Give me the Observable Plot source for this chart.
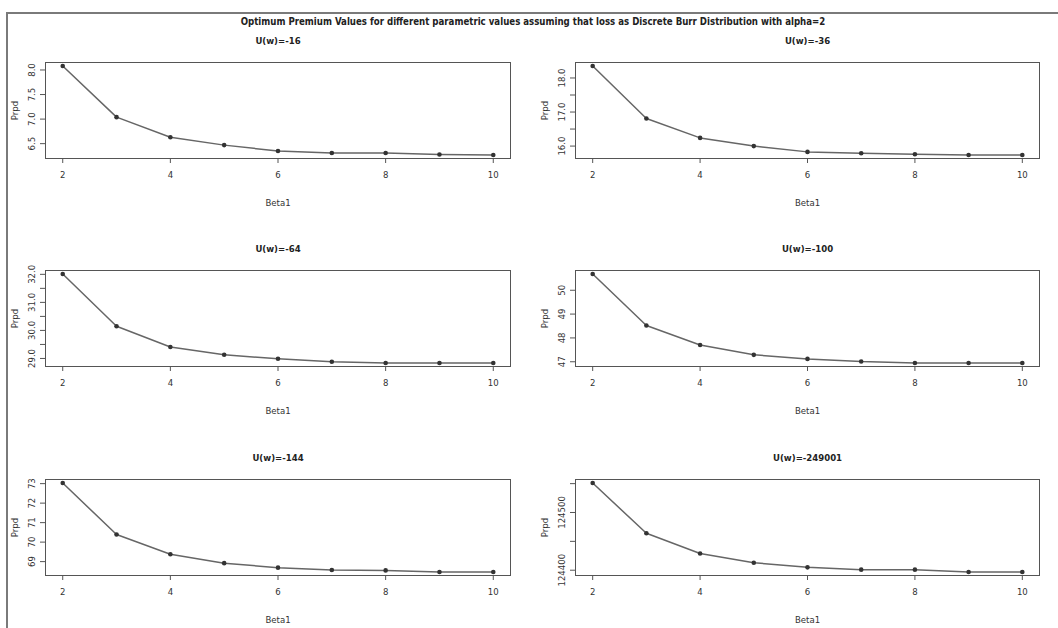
<!DOCTYPE html>
<html>
<head>
<meta charset="utf-8">
<script src="https://cdn.jsdelivr.net/npm/d3@7"></script>
<script src="https://cdn.jsdelivr.net/npm/@observablehq/plot@0.6"></script>
<style>
  body { margin: 0; background: #fff; }
  #page { position: relative; width: 1058px; height: 628px; overflow: hidden;
          font-family: "Liberation Sans Narrow", "DejaVu Sans Condensed", "Liberation Sans", sans-serif; }
  #frame { position: absolute; left: 6px; top: 12px; width: 1060px; height: 630px;
           border-top: 2px solid #7a7a7a; border-left: 2px solid #7a7a7a; }
  #title { position: absolute; top: 16px; left: 4px; width: 1058px; text-align: center;
           font-weight: bold; font-size: 9.6px; color: #222; white-space: nowrap; }
  .panel { position: absolute; }
</style>
</head>
<body>
<div id="page">
  <div id="frame"></div>
  <div id="title">Optimum Premium Values for different parametric values assuming that loss as Discrete Burr Distribution with alpha=2</div>
</div>
<script>
// Shape parameter beta1 on the x axis
const beta1 = [2, 3, 4, 5, 6, 7, 8, 9, 10];
const xTicks = [2, 4, 6, 8, 10];

// Panel headings (utility level)
const utilities = ["U(w)=-16", "U(w)=-36", "U(w)=-64", "U(w)=-100", "U(w)=-144", "U(w)=-249001"];

// Optimum premium for each utility level
const prem16     = [8.08, 7.04, 6.63, 6.47, 6.35, 6.31, 6.31, 6.28, 6.27];
const prem36     = [18.35, 16.81, 16.24, 16.00, 15.83, 15.79, 15.76, 15.74, 15.74];
const prem64     = [32.01, 30.15, 29.41, 29.13, 28.99, 28.88, 28.84, 28.84, 28.84];
const prem100    = [50.68, 48.52, 47.70, 47.29, 47.12, 47.01, 46.95, 46.95, 46.95];
const prem144    = [73.03, 70.39, 69.38, 68.92, 68.69, 68.57, 68.55, 68.47, 68.47];
const prem249001 = [124551, 124464, 124429, 124413, 124405, 124401, 124401, 124397, 124397];

// y tick positions and the subset that carries a label
const yTicks16  = [6.5, 7.0, 7.5, 8.0];              const yLabels16  = [6.5, 7.0, 7.5, 8.0];
const yTicks36  = [16.0, 16.5, 17.0, 17.5, 18.0];    const yLabels36  = [16.0, 17.0, 18.0];
const yTicks64  = [29.0, 29.5, 30.0, 30.5, 31.0, 31.5, 32.0]; const yLabels64 = [29.0, 30.0, 31.0, 32.0];
const yTicks100 = [47, 48, 49, 50];                  const yLabels100 = [47, 48, 49, 50];
const yTicks144 = [69, 70, 71, 72, 73];              const yLabels144 = [69, 70, 71, 72, 73];
const yTicks249001 = [124400, 124450, 124500, 124550]; const yLabels249001 = [124400, 124500];

const panels = [
  {title: utilities[0], values: prem16,     ticks: yTicks16,     labels: yLabels16,     fmt: d => d.toFixed(1)},
  {title: utilities[1], values: prem36,     ticks: yTicks36,     labels: yLabels36,     fmt: d => d.toFixed(1)},
  {title: utilities[2], values: prem64,     ticks: yTicks64,     labels: yLabels64,     fmt: d => d.toFixed(1)},
  {title: utilities[3], values: prem100,    ticks: yTicks100,    labels: yLabels100,    fmt: d => String(d)},
  {title: utilities[4], values: prem144,    ticks: yTicks144,    labels: yLabels144,    fmt: d => String(d)},
  {title: utilities[5], values: prem249001, ticks: yTicks249001, labels: yLabels249001, fmt: d => String(d)}
];

// R-style axis range: data extent padded by 4% on each side
function padded(arr) {
  const [lo, hi] = d3.extent(arr);
  const p = (hi - lo) * 0.04;
  return [lo - p, hi + p];
}

const fontFamily = '"Liberation Sans Narrow", "DejaVu Sans Condensed", "Liberation Sans", sans-serif';
const page = document.getElementById("page");
const centred = {textAnchor: "middle", lineAnchor: "middle"};

panels.forEach((panel, i) => {
  const col = i % 2, row = Math.floor(i / 2);
  const rows = beta1.map((b, k) => ({beta: b, p: panel.values[k]}));
  const chart = Plot.plot({
    width: 529,
    height: 208,
    marginLeft: 45 + col,
    marginRight: 19,
    marginTop: 62,
    marginBottom: 50,
    x: {domain: padded(beta1)},
    y: {domain: padded(panel.values)},
    style: {fontFamily, fontSize: "9.5px", color: "#333", background: "none", overflow: "visible"},
    marks: [
      Plot.frame({stroke: "#555", strokeWidth: 1}),
      Plot.axisX({ticks: xTicks, tickSize: 5, tickPadding: 8, tickFormat: d => String(d), label: null, stroke: "#555"}),
      Plot.axisY({ticks: panel.ticks, tickSize: 5, tickFormat: () => "", label: null, stroke: "#555"}),
      Plot.text(panel.labels, {y: d => d, text: panel.fmt, frameAnchor: "left", dx: -14, rotate: -90, fill: "#333", ...centred}),
      Plot.text(["Prpd"], {text: d => d, frameAnchor: "left", dx: -31, rotate: -90, fill: "#333", ...centred}),
      Plot.text(["Beta1"], {text: d => d, frameAnchor: "bottom", dy: 44, fill: "#333", ...centred}),
      Plot.text([panel.title], {text: d => d, frameAnchor: "top", dy: -22, fontWeight: "bold", fontSize: 9.5, fill: "#222", ...centred}),
      Plot.line(rows, {x: "beta", y: "p", stroke: "#666", strokeWidth: 1.5}),
      Plot.dot(rows, {x: "beta", y: "p", r: 2.3, fill: "#333"})
    ]
  });
  chart.classList.add("panel");
  chart.style.left = (col * 529) + "px";
  chart.style.top = [0, 208, 417][row] + "px";
  page.appendChild(chart);
});
</script>
</body>
</html>
